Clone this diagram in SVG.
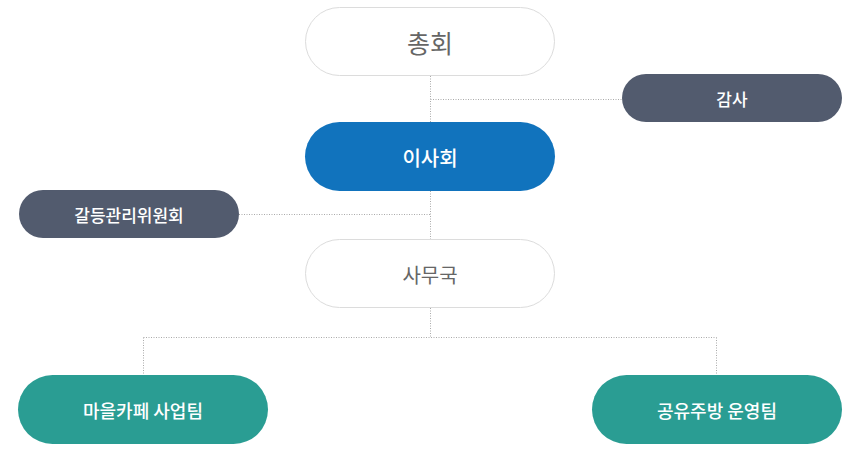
<svg xmlns="http://www.w3.org/2000/svg" width="860" height="450" viewBox="0 0 860 450">
<style>
text{font-family:"Noto Sans CJK KR","Noto Sans",sans-serif;text-anchor:middle;dominant-baseline:central}
.w{fill:#fff;stroke:#dcdcdc;stroke-width:1}
.wt{fill:#666}
.d{fill:#525b6e}
.t{fill:#2a9d93}
.lt{fill:#fff;font-weight:500}
.c{stroke:#aaa;stroke-width:1;stroke-dasharray:1 1.5;fill:none}
</style>
<rect width="860" height="450" fill="#fff"/>
<g id="connectors">
<path class="c" d="M430.5 76V122M430.5 99.5H622M430.5 191V239M239 214.5H430.5M430.5 308V337.5M143.5 337.5H716.5M143.5 337.5V375M716.5 337.5V375"/>
</g>
<g id="n1"><rect class="w" x="305.5" y="7.5" width="249" height="68" rx="34"/><text class="wt" x="430" y="42" font-size="25">총회</text></g>
<g id="n2"><rect class="d" x="622" y="74" width="220" height="48" rx="24"/><text class="lt" x="732" y="98" font-size="17">감사</text></g>
<g id="n3"><rect fill="#1173bd" x="305" y="122" width="250" height="69" rx="34.5"/><text class="lt" x="430" y="157" font-size="20">이사회</text></g>
<g id="n4"><rect class="d" x="19" y="190" width="220" height="48" rx="24"/><text class="lt" x="129" y="214" font-size="17">갈등관리위원회</text></g>
<g id="n5"><rect class="w" x="305.5" y="239.5" width="249" height="68" rx="34"/><text class="wt" x="430" y="274" font-size="20">사무국</text></g>
<g id="n6"><rect class="t" x="18" y="375" width="250" height="69" rx="34.5"/><text class="lt" x="143" y="410" font-size="18">마을카페 사업팀</text></g>
<g id="n7"><rect class="t" x="592" y="375" width="250" height="69" rx="34.5"/><text class="lt" x="717" y="410" font-size="18">공유주방 운영팀</text></g>
</svg>
